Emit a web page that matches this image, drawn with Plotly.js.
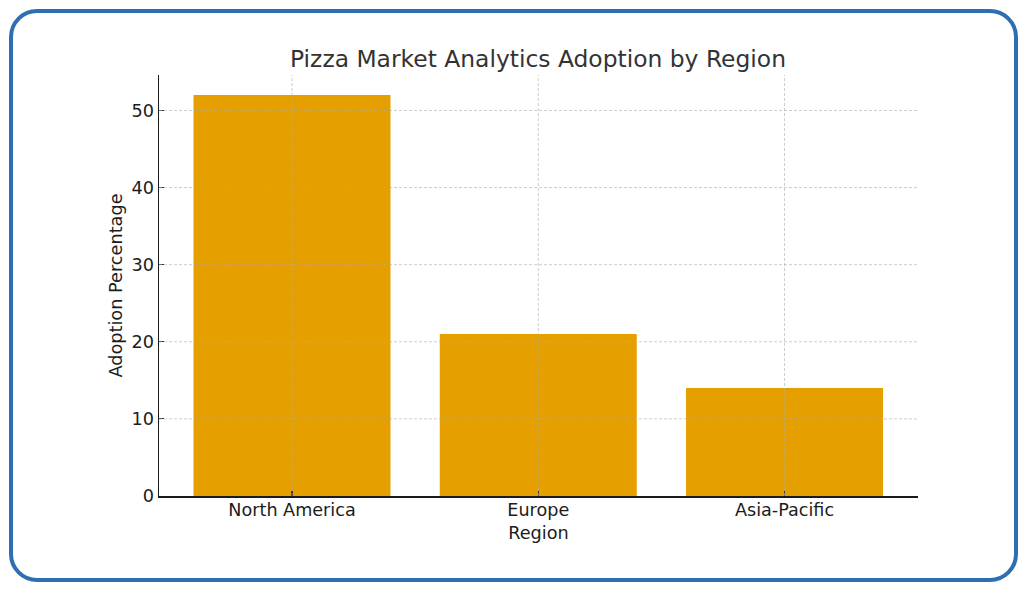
<!DOCTYPE html>
<html><head><meta charset="utf-8">
<script src="https://cdn.plot.ly/plotly-3.0.1.min.js"></script>
<style>
html,body{margin:0;padding:0;background:#fff;width:1026px;height:589px;overflow:hidden}
#chart{position:absolute;left:0;top:0;width:1026px;height:589px}
#frame{position:absolute;left:8.5px;top:8.5px;width:1009px;height:573px;box-sizing:border-box;border:4px solid #2a70b2;border-radius:28px;pointer-events:none}
</style></head><body>
<div id="chart"></div><div id="frame"></div>
<script>
const regions = ["North America", "Europe", "Asia-Pacific"];
const adoption = [52, 21, 14];
const yTicks = [0, 10, 20, 30, 40, 50];
const font = "DejaVu Sans, sans-serif";
const gridStyle = {color: "rgba(170,170,170,0.6)", width: 1, dash: "3px,2px"};
const yMax = 54.6;
const shapes = [];
yTicks.slice(1).forEach(v => shapes.push({type:"line", layer:"above", xref:"paper", x0:0, x1:1, yref:"y", y0:v, y1:v, line:gridStyle}));
regions.forEach((r,i) => shapes.push({type:"line", layer:"above", xref:"x", x0:i, x1:i, yref:"paper", y0:0, y1:1, line:gridStyle}));
Plotly.newPlot("chart", [{
  type:"bar", x:[0,1,2], y:adoption, width:0.8,
  marker:{color:"#e5a000", line:{width:0}}, hoverinfo:"skip"
}], {
  width:1026, height:589, autosize:false,
  margin:{l:159, r:108, t:75, b:92.5, pad:0},
  paper_bgcolor:"#fff", plot_bgcolor:"#fff", showlegend:false,
  font:{family:font, color:"#1c1c1c", size:17.7},
  title:{text:"Pizza Market Analytics Adoption by Region", font:{family:font, size:23.4, color:"#333333"},
         x:538/1026, xanchor:"center", y:1-58.5/589, yanchor:"middle"},
  xaxis:{range:[-0.5401,2.542], tickmode:"array", tickvals:[0,1,2], ticktext:regions,
    showgrid:false, zeroline:false, showline:true, linecolor:"#1a1a1a", linewidth:1.5,
    ticks:"inside", ticklen:5, tickwidth:1.2, tickcolor:"#333", layer:"above traces", ticklabelstandoff:-3,
    tickfont:{size:17.6, family:font, color:"#1c1c1c"},
    title:{text:"Region", font:{size:17.7, family:font, color:"#1c1c1c"}, standoff:8}},
  yaxis:{range:[0,yMax], tickmode:"array", tickvals:yTicks,
    showgrid:false, zeroline:false, showline:true, linecolor:"#1a1a1a", linewidth:1.5,
    ticks:"inside", ticklen:5, tickwidth:1.2, tickcolor:"#333", layer:"above traces", ticklabelstandoff:0,
    tickfont:{size:17.7, family:font, color:"#1c1c1c"},
    title:{text:"Adoption Percentage", font:{size:17.7, family:font, color:"#1c1c1c"}, standoff:4}},
  shapes:shapes
}, {displayModeBar:false, staticPlot:true});
</script></body></html>
